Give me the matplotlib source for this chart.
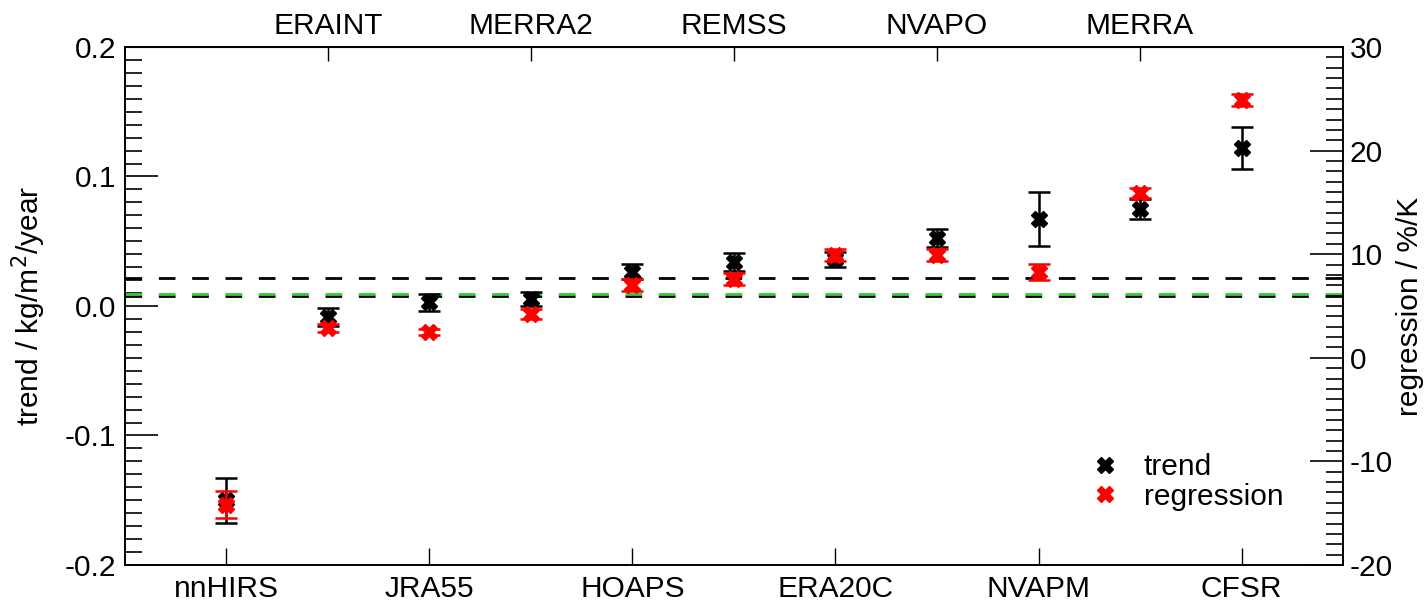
import matplotlib
matplotlib.use("Agg")
import matplotlib.pyplot as plt
from matplotlib.lines import Line2D
from matplotlib.ticker import MultipleLocator

plt.rcParams['font.family'] = ['Liberation Sans', 'DejaVu Sans']

# data sets, alternating bottom / top labels
names = ['nnHIRS', 'ERAINT', 'JRA55', 'MERRA2', 'HOAPS', 'REMSS',
         'ERA20C', 'NVAPO', 'NVAPM', 'MERRA', 'CFSR']

# trend in kg/m2/year (left axis)
trend = [-0.150, -0.0085, 0.0027, 0.0054, 0.0265, 0.0338,
         0.0360, 0.0523, 0.0673, 0.0746, 0.1219]
trend_err = [0.0173, 0.0070, 0.0065, 0.0055, 0.0060, 0.0070,
             0.0060, 0.0070, 0.0211, 0.0077, 0.0165]

# regression in %/K (right axis)
regr = [-14.2, 2.9, 2.5, 4.25, 7.05, 7.6, 9.94, 9.94, 8.3, 15.9, 24.9]
regr_err = [1.3, 0.4, 0.3, 0.5, 0.6, 0.6, 0.6, 0.6, 0.8, 0.5, 0.55]

# horizontal reference lines (left axis units)
ref_black = [0.0215, 0.0077]
ref_green = 0.0092

x = list(range(len(names)))

fig = plt.figure(figsize=(14.28, 6.07), dpi=100)
ax = fig.add_axes([0.0875, 0.0692, 0.853, 0.8534])
axr = ax.twinx()

fs = 21.5

# dashed lines
for v in ref_black:
    ax.axhline(v, color='black', ls=(0, (6, 6)), lw=2, zorder=1)
ax.axhline(ref_green, color='#33cc33', ls=(0, (6, 6)), lw=2, zorder=2)

ax.errorbar(x, trend, yerr=trend_err, fmt='X', color='black', ms=12,
            capsize=8, elinewidth=1.8, capthick=1.8, zorder=3)
axr.errorbar(x, regr, yerr=regr_err, fmt='X', color='red', ms=12,
             mec='red', capsize=8, elinewidth=1.8, capthick=1.8, zorder=3)

ax.set_xlim(-1, 11)
ax.set_ylim(-0.2, 0.2)
axr.set_ylim(-20, 30)

# bottom labels: even entries, top labels: odd entries
ax.set_xticks(x[0::2])
ax.set_xticklabels(names[0::2], fontsize=fs)
top = ax.secondary_xaxis('top')
top.set_xticks(x[1::2])
top.set_xticklabels(names[1::2], fontsize=fs)
top.tick_params(direction='in', length=10, width=1, pad=5)

ax.set_yticks([-0.2, -0.1, 0.0, 0.1, 0.2])
ax.set_yticklabels(['-0.2', '-0.1', '0.0', '0.1', '0.2'], fontsize=fs)
ax.yaxis.set_minor_locator(MultipleLocator(0.01))
axr.set_yticks([-20, -10, 0, 10, 20, 30])
axr.set_yticklabels(['-20', '-10', '0', '10', '20', '30'], fontsize=fs)
axr.yaxis.set_minor_locator(MultipleLocator(1))

ax.tick_params(axis='x', direction='in', length=12, width=1, pad=7, top=False)
ax.tick_params(axis='y', which='major', direction='in', length=24, width=1.2, pad=6, right=False)
ax.tick_params(axis='y', which='minor', direction='in', length=12, width=1.2, right=False)
axr.tick_params(axis='y', which='major', direction='in', length=24, width=1.2, pad=5)
axr.tick_params(axis='y', which='minor', direction='in', length=12, width=1.2)

ax.set_ylabel('trend / kg/m$^2$/year', fontsize=fs, labelpad=12)
axr.set_ylabel('regression / %/K', fontsize=fs, labelpad=2)

for a in (ax, axr):
    for s in a.spines.values():
        s.set_linewidth(1.2)

handles = [Line2D([], [], marker='X', color='black', ls='none', ms=12),
           Line2D([], [], marker='X', color='red', ls='none', ms=12)]
axr.legend(handles, ['trend', 'regression'], loc='center left',
           bbox_to_anchor=(0.78, 0.16), frameon=False, fontsize=fs,
           handlelength=1, handletextpad=0.8, labelspacing=0.05, borderpad=0)

plt.savefig('out.png', dpi=100)
